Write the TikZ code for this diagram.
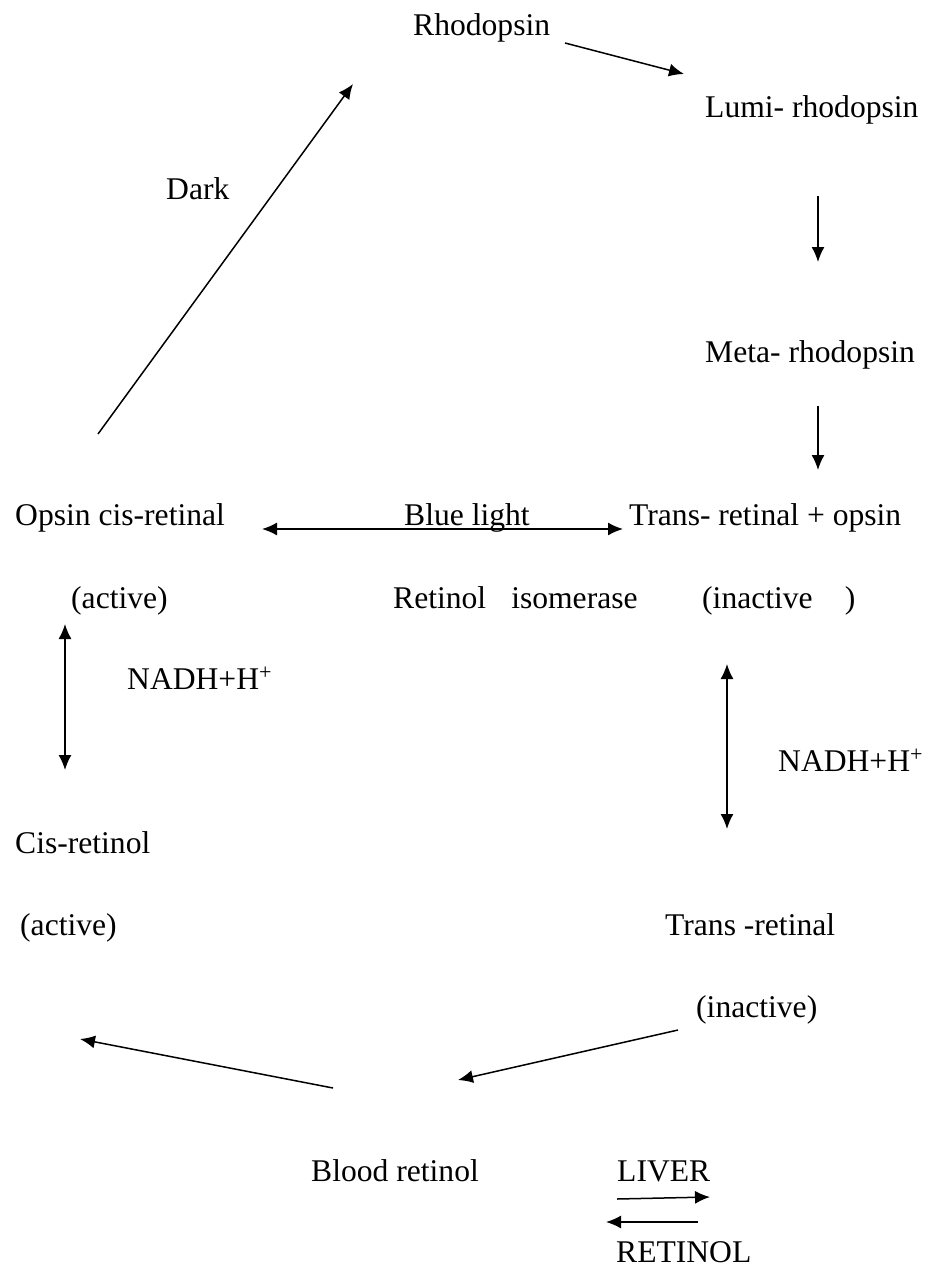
\documentclass[tikz,border=0pt]{standalone}
\usepackage{fontspec}
\setmainfont{Liberation Serif}
\usetikzlibrary{arrows.meta}
\begin{document}
\begin{tikzpicture}[x=1pt,y=-1pt,
  lbl/.style={inner sep=0pt,anchor=base west,font=\fontsize{31.6}{36}\selectfont},
  arr/.style={line width=1.5pt,-{Latex[length=15pt,width=13pt]}},
  darr/.style={line width=1.5pt,{Latex[length=15pt,width=13pt]}-{Latex[length=15pt,width=13pt]}}]
\useasboundingbox[fill=white] (0,0) rectangle (933,1267);
% texts (baselines on an 81.8px line grid)
\node[lbl] (rho) at (413,35) {Rhodopsin};
\node[lbl] (lumi) at (705,117) {Lumi- rhodopsin};
\node[lbl] (dark) at (166,199) {Dark};
\node[lbl] (meta) at (705,362) {Meta- rhodopsin};
\node[lbl] (opsin) at (15,525) {Opsin cis-retinal};
\node[lbl] (blue) at (404,525) {Blue light};
\node[lbl] (trans) at (629,525) {Trans- retinal + opsin};
\node[lbl] (act1) at (71,608) {(active)};
\node[lbl] (iso) at (393,608) {Retinol\hspace{25pt}isomerase};
\node[lbl] (inact1) at (702,608) {(inactive\hspace{32pt})};
\node[lbl] (nadh1) at (127,689) {NADH+H\textsuperscript{+}};
\node[lbl] (nadh2) at (778,771) {NADH+H\textsuperscript{+}};
\node[lbl] (cisrol) at (15,853) {Cis-retinol};
\node[lbl] (act2) at (20,935) {(active)};
\node[lbl] (transr) at (665,935) {Trans -retinal};
\node[lbl] (inact2) at (696,1017) {(inactive)};
\node[lbl] (blood) at (311,1181) {Blood retinol};
\node[lbl] (liver) at (617,1181) {LIVER};
\node[lbl] (retinol) at (616,1262) {RETINOL};
% arrow end points
\coordinate (a1s) at (565,43);  \coordinate (a1e) at (684,74);
\coordinate (a2s) at (818,196); \coordinate (a2e) at (818,262);
\coordinate (a3s) at (818,406); \coordinate (a3e) at (818,470);
\coordinate (a4s) at (262,529); \coordinate (a4e) at (623,529);
\coordinate (a5s) at (65,624);  \coordinate (a5e) at (65,770);
\coordinate (a6s) at (727,664); \coordinate (a6e) at (727,829);
\coordinate (a7s) at (98,434);  \coordinate (a7e) at (353,84);
\coordinate (a8s) at (333,1088); \coordinate (a8e) at (80,1039);
\coordinate (a9s) at (678,1030); \coordinate (a9e) at (458,1080);
\coordinate (a10s) at (617,1199); \coordinate (a10e) at (710,1197);
\coordinate (a11s) at (698,1222); \coordinate (a11e) at (606,1222);
% connectors
\draw[arr] (a1s) -- (a1e);
\draw[arr] (a2s) -- (a2e);
\draw[arr] (a3s) -- (a3e);
\draw[darr] (a4s) -- (a4e);
\draw[darr] (a5s) -- (a5e);
\draw[darr] (a6s) -- (a6e);
\draw[arr] (a7s) -- (a7e);
\draw[arr] (a8s) -- (a8e);
\draw[arr] (a9s) -- (a9e);
\draw[arr] (a10s) -- (a10e);
\draw[arr] (a11s) -- (a11e);
\end{tikzpicture}
\end{document}
